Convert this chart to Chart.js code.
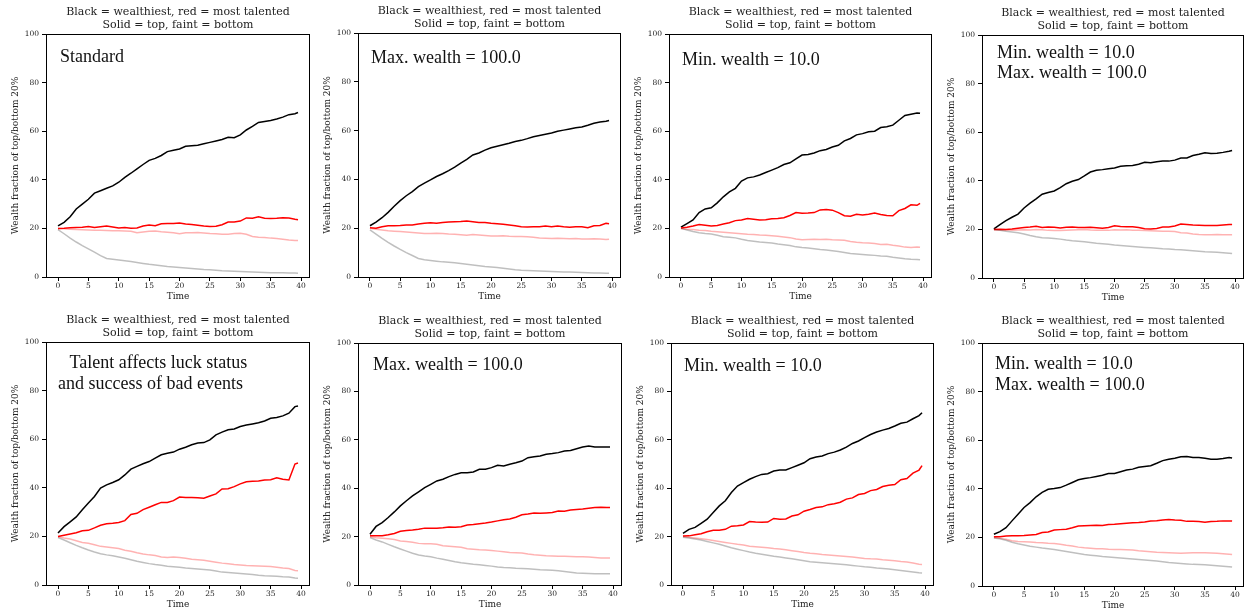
<!DOCTYPE html>
<html>
<head>
<meta charset="utf-8">
<script src="https://cdn.jsdelivr.net/npm/chart.js@4.4.0/dist/chart.umd.min.js"></script>
<style>
  body { margin: 0; background: #fff; width: 1245px; height: 613px; overflow: hidden; position: relative; }
  canvas { position: absolute; }
</style>
</head>
<body>
<script>
// Time steps of the simulation (last sample sits half a step after 39)
const times = [0,1,2,3,4,5,6,7,8,9,10,11,12,13,14,15,16,17,18,19,20,21,22,23,24,25,26,27,28,29,30,31,32,33,34,35,36,37,38,39,39.5];
const xTicks = [0,5,10,15,20,25,30,35,40];
const yTicks = [0,20,40,60,80,100];
const chartTitle = ['Black = wealthiest, red = most talented', 'Solid = top, faint = bottom'];
const yLabel = 'Wealth fraction of top/bottom 20%';
const xLabel = 'Time';
const panelNotes = [
  ['Standard'],
  ['Max. wealth = 100.0'],
  ['Min. wealth = 10.0'],
  ['Min. wealth = 10.0', 'Max. wealth = 100.0'],
  [' Talent affects luck status', 'and success of bad events'],
  ['Max. wealth = 100.0'],
  ['Min. wealth = 10.0'],
  ['Min. wealth = 10.0', 'Max. wealth = 100.0']
];

// --- Standard ---
const standardTopWealth = [21,22.5,24.8,28,30,32,34.5,35.5,36.5,37.5,39,41,42.7,44.5,46.3,48,48.8,50,51.6,52.2,52.7,53.8,54,54.2,54.8,55.4,56,56.6,57.5,57.3,58.5,60.5,62,63.6,64,64.4,65,65.8,66.8,67.2,67.7];
const standardTopTalent = [20,20.1,20.3,20.4,20.5,20.8,20.4,20.7,21,20.6,20.2,20.4,20.1,20.2,21,21.4,21.1,21.9,22,22,22.2,21.8,21.6,21.3,21,20.8,20.9,21.5,22.6,22.6,23,24.3,24.2,24.8,24.2,24.1,24.2,24.4,24.3,23.8,23.6];
const standardBottomTalent = [20,19.9,19.7,19.5,19.4,19.3,19.2,19.2,19.1,19,19,18.9,18.8,18.2,18.5,18.8,18.9,18.6,18.4,18.2,17.8,18.2,18.2,18.3,18.1,17.9,17.8,17.6,17.6,17.9,18,17.6,16.7,16.4,16.3,16,15.8,15.5,15.2,15,15];
const standardBottomWealth = [19.5,17.8,16,14.4,12.9,11.6,10.2,8.8,7.6,7.3,7,6.7,6.4,6,5.6,5.2,4.9,4.6,4.3,4.1,3.9,3.7,3.5,3.3,3.1,3,2.8,2.6,2.5,2.4,2.3,2.2,2.1,2,1.9,1.8,1.8,1.7,1.6,1.6,1.5];

// --- Max. wealth = 100 ---
const maxWealthTopWealth = [21,22.5,24.3,26.5,29,31.3,33.3,35,37,38.5,39.8,41.2,42.3,43.6,45,46.7,48.2,50,50.8,52,53,53.6,54.2,54.8,55.5,56,56.7,57.5,58,58.5,59,59.7,60.2,60.7,61.2,61.5,62.2,63,63.5,63.8,64.1];
const maxWealthTopTalent = [20.2,20,20.6,21,21,21.1,21.3,21.3,21.7,22,22.2,22,22.3,22.5,22.6,22.7,22.9,22.6,22.3,22.3,22,21.8,21.6,21.3,21,20.6,20.5,20.6,20.6,20.9,20.6,20.9,20.6,20.4,20.6,20.6,20.2,21,21.1,22,21.8];
const maxWealthBottomTalent = [20,19.6,19.3,19,18.8,18.6,18.4,18.2,18,17.8,17.8,17.9,17.8,17.6,17.5,17.3,17.1,17.4,17.2,17,16.8,16.8,16.9,16.7,16.6,16.6,16.5,16.3,16,15.9,15.8,15.9,15.8,15.7,15.8,15.6,15.6,15.7,15.6,15.4,15.5];
const maxWealthBottomWealth = [19.3,17.6,15.8,14.2,12.7,11.3,10,8.8,7.6,7.1,6.8,6.5,6.2,6,5.8,5.5,5.2,4.9,4.6,4.3,4.1,3.9,3.6,3.3,3,2.8,2.7,2.6,2.5,2.4,2.3,2.2,2.1,2,1.9,1.8,1.7,1.6,1.6,1.5,1.5];

// --- Min. wealth = 10 ---
const minWealthTopWealth = [20.5,22,23.5,26.5,28,28.5,30.5,33,35,36.5,39.5,40.8,41.2,42,43,44,45,46.3,47,48.6,50.2,50.4,51,52,52.5,53.5,54.2,56,57,58.5,59,59.8,60,61.5,61.8,62.5,64.5,66.5,67,67.5,67.4];
const minWealthTopTalent = [20.2,20.5,21,21.6,21.3,21,21.2,21.8,22.3,23.2,23.5,24.1,23.8,23.5,23.6,24,24.1,24.4,25.3,26.5,26.2,26.3,26.5,27.6,27.8,27.5,26.5,25.2,25,25.8,25.5,25.8,26.3,25.7,25.3,25.2,27.3,28.2,29.7,29.5,30.3];
const minWealthBottomTalent = [20,19.7,19.5,19.2,19.1,18.8,18.6,18.4,18.2,18,17.8,17.6,17.5,17.3,17.2,17,16.8,16.5,16.2,15.6,15.3,15.4,15.5,15.4,15.5,15.3,15.2,15.1,14.6,14.3,14.1,14,13.8,13.4,13.5,13.1,12.8,12.3,12.1,12.3,12.2];
const minWealthBottomWealth = [20,19.3,18.7,18.2,17.9,17.7,17.2,16.6,16.4,16.1,15.5,15,14.7,14.4,14.2,14,13.6,13.3,13,12.4,12.1,11.9,11.6,11.3,11.1,10.8,10.5,10.1,9.7,9.5,9.3,9.1,8.9,8.6,8.5,8.1,7.8,7.5,7.3,7.2,7.1];

// --- Min. wealth = 10, Max. wealth = 100 ---
const minMaxTopWealth = [20.2,22,23.6,25,26.3,28.8,30.8,32.6,34.5,35.2,35.8,37.2,38.8,39.8,40.5,42,43.6,44.3,44.6,45,45.3,46,46.2,46.3,46.8,47.6,47.4,47.8,48.1,48.1,48.5,49.4,49.4,50.4,50.9,51.5,51.2,51.3,51.7,52.2,52.5];
const minMaxTopTalent = [20,20.1,20,20.2,20.5,20.8,21,21.3,20.8,21,20.9,20.6,20.9,21,20.8,20.8,20.9,20.7,20.5,20.8,21.5,21.2,21.1,21.1,20.8,20.3,20.2,20.4,21,21,21.4,22.2,22,21.8,21.7,21.6,21.6,21.6,21.8,22,22];
const minMaxBottomTalent = [20,19.9,19.8,19.7,19.8,19.9,19.8,20,19.9,19.6,19.5,19.5,19.7,19.8,19.9,20,19.8,19.7,19.6,19.6,19.9,19.8,19.9,19.7,19.6,19.5,19.4,19.3,19.2,19.2,19.1,18.6,18.5,18.1,17.9,17.8,17.8,17.9,17.8,17.8,17.8];
const minMaxBottomWealth = [20,19.6,19.2,18.9,18.6,18.1,17.5,17,16.6,16.5,16.3,16,15.6,15.3,15.1,14.9,14.6,14.3,14.1,13.9,13.6,13.4,13.2,13,12.8,12.6,12.4,12.2,12,11.9,11.7,11.6,11.4,11.2,11,10.8,10.7,10.6,10.4,10.2,10.1];

// --- Talent affects luck status and success of bad events ---
const talentTopWealth = [21.4,24,26,28,31,33.7,36.4,39.9,41.2,42.2,43.3,45.3,47.7,48.8,49.9,50.8,52.2,53.6,54.2,54.7,55.9,56.7,57.7,58.4,58.6,59.7,61.8,62.9,63.9,64.2,65.2,65.8,66.3,66.8,67.5,68.6,68.9,69.6,70.7,73.4,73.7];
const talentTopTalent = [20,20.5,21,21.5,22.3,22.5,23.5,24.6,25.2,25.4,25.7,26.5,29,29.5,31,32,33,34,34,34.7,36.2,36,36,35.9,35.7,36.6,37.5,39.5,39.6,40.5,41.6,42.5,42.7,42.8,43.2,43.3,44.1,43.5,43.2,49.8,50.2];
const talentBottomTalent = [19.8,19.3,18.9,18.2,17.5,17.2,16.6,15.9,15.6,15.3,15,14.3,13.9,13.3,12.8,12.4,12.1,11.5,11.3,11.5,11.3,11,10.6,10.4,10.2,9.8,9.4,9,8.7,8.4,8.2,8,7.9,7.8,7.7,7.6,7.3,7,6.8,6,5.9];
const talentBottomWealth = [19.5,18.5,17.4,16.3,15.3,14.4,13.6,12.9,12.4,12,11.5,11,10.4,9.8,9.3,8.8,8.4,8.1,7.7,7.5,7.3,7,6.8,6.6,6.4,6.2,5.8,5.3,5.1,4.9,4.7,4.5,4.3,4,3.8,3.7,3.6,3.4,3.3,2.9,2.8];

// --- Talent, Max. wealth = 100 ---
const talentMaxTopWealth = [21,24.2,25.8,27.9,30.2,32.7,34.8,36.8,38.5,40.2,41.6,43,43.7,44.8,45.7,46.4,46.4,46.7,47.8,47.8,48.5,49.5,49.2,49.9,50.5,51.2,52.6,53,53.3,54,54.3,54.7,55.4,55.6,56.3,57,57.4,57,57,57,57];
const talentMaxTopTalent = [20.3,20.3,20.4,20.8,21.3,22.2,22.5,22.7,23,23.5,23.4,23.5,23.7,24,23.9,24.1,24.8,25,25.3,25.6,26,26.5,27,27.3,28,29,29.3,29.7,29.6,29.8,30,30.6,30.5,31,31.2,31.4,31.7,32,32.1,32,32];
const talentMaxBottomTalent = [20,19.5,19.3,19.1,18.8,18.2,18,17.7,17.2,17,17,16.8,16.2,16,15.8,15.6,15,14.8,14.6,14.5,14.3,14,13.7,13.4,13.3,13.2,12.8,12.5,12.3,12.1,12,11.9,11.9,11.8,11.7,11.7,11.6,11.4,11.2,11.2,11.2];
const talentMaxBottomWealth = [19.6,18.6,17.8,16.8,15.8,14.9,14,13.1,12.4,12,11.7,11.1,10.6,10.1,9.6,9.2,8.9,8.6,8.4,8.1,7.8,7.4,7.2,7.1,6.9,6.8,6.7,6.5,6.3,6.2,6.1,5.9,5.6,5.3,5,4.9,4.8,4.7,4.6,4.6,4.6];

// --- Talent, Min. wealth = 10 ---
const talentMinTopWealth = [21.3,23,23.8,25.5,27.2,30,32.7,34.8,38.2,40.9,42.3,43.7,44.8,45.7,46,47.1,47.5,47.5,48.5,49.5,50.5,52.2,52.9,53.3,54.3,54.9,55.8,57,58.5,59.5,60.9,62.2,63.2,64,64.7,65.7,66.8,67.3,68.7,70,71.2];
const talentMinTopTalent = [20.2,20.3,20.8,21.2,22,22.6,22.6,23,24.3,24.5,24.8,26.2,26,25.9,26,27.5,27.2,27.3,28.5,29,30.5,31.2,32,32.3,33.2,33.6,34.2,35.5,36,37.4,37.8,39,39.5,40.7,41.2,41.5,43.5,44,46.2,47.5,49.3];
const talentMinBottomTalent = [20,19.7,19.4,19.1,18.8,18.4,18,17.6,17.2,16.8,16.5,16,15.8,15.6,15.4,15.1,14.9,14.6,14.2,13.8,13.4,13.1,12.9,12.6,12.4,12.2,12,11.8,11.6,11.3,11,10.8,10.7,10.4,10.2,10,9.7,9.5,9.1,8.6,8.5];
const talentMinBottomWealth = [19.7,19.4,19,18.6,18,17.4,16.8,16.1,15.4,14.8,14.2,13.6,13.1,12.7,12.3,11.9,11.6,11.2,10.8,10.4,10,9.6,9.4,9.2,9,8.8,8.6,8.4,8.1,7.8,7.5,7.3,7,6.8,6.6,6.3,6,5.7,5.4,5.1,5];

// --- Talent, Min. wealth = 10, Max. wealth = 100 ---
const talentMinMaxTopWealth = [21.3,22.4,24,26.8,29.5,32.3,34.3,36.7,38.5,39.8,40.1,40.5,41.5,42.6,43.7,44.2,44.6,45.1,45.6,46.3,46.3,47,47.7,48.1,48.9,49.2,49.5,50.5,51.6,52.2,52.6,53.2,53.3,52.9,52.9,52.6,52.2,52.2,52.5,52.9,52.7];
const talentMinMaxTopTalent = [20.3,20.3,20.6,20.7,20.7,20.8,21,21.2,22,22.2,23,23.2,23.4,24,24.7,24.8,24.9,25,24.9,25.3,25.4,25.6,25.8,26,26.1,26.3,26.7,26.9,27.2,27.4,27.2,27.1,26.6,26.6,26.5,26.2,26.5,26.6,26.8,26.8,26.7];
const talentMinMaxBottomTalent = [20,19.6,19.2,18.6,18.3,18.2,18.1,17.9,17.8,17.6,17.5,17.2,16.8,16.5,16,15.7,15.5,15.3,15.3,15.1,15,15,14.9,14.8,14.5,14.3,14.1,13.9,13.8,13.7,13.6,13.5,13.6,13.7,13.7,13.7,13.6,13.5,13.3,13.1,13];
const talentMinMaxBottomWealth = [19.8,19.4,18.8,18,17.4,16.9,16.4,16,15.6,15.3,15,14.6,14.2,13.8,13.4,13,12.7,12.4,12.1,11.9,11.7,11.5,11.3,11.1,10.9,10.7,10.5,10.3,10,9.7,9.5,9.3,9.1,8.9,8.8,8.7,8.5,8.3,8.1,7.9,7.8];

const panelSeries = [
  [standardTopWealth, standardTopTalent, standardBottomTalent, standardBottomWealth],
  [maxWealthTopWealth, maxWealthTopTalent, maxWealthBottomTalent, maxWealthBottomWealth],
  [minWealthTopWealth, minWealthTopTalent, minWealthBottomTalent, minWealthBottomWealth],
  [minMaxTopWealth, minMaxTopTalent, minMaxBottomTalent, minMaxBottomWealth],
  [talentTopWealth, talentTopTalent, talentBottomTalent, talentBottomWealth],
  [talentMaxTopWealth, talentMaxTopTalent, talentMaxBottomTalent, talentMaxBottomWealth],
  [talentMinTopWealth, talentMinTopTalent, talentMinBottomTalent, talentMinBottomWealth],
  [talentMinMaxTopWealth, talentMinMaxTopTalent, talentMinMaxBottomTalent, talentMinMaxBottomWealth]
];

// Line styles: top wealth, top talent, bottom talent (faint red), bottom wealth (faint black)
const lineColors = ['#000000', '#ff0000', 'rgba(255,0,0,0.3)', 'rgba(0,0,0,0.25)'];
const drawOrder = [3, 2, 1, 0];

// Plot-area rectangles (page pixels) for the 2 x 4 grid
const plotBoxes = [
  { l: 46,  t: 34,  r: 310,  b: 277 },
  { l: 358, t: 33,  r: 621,  b: 277 },
  { l: 669, t: 34,  r: 932,  b: 277 },
  { l: 982, t: 35,  r: 1244, b: 278 },
  { l: 46,  t: 342, r: 310,  b: 585 },
  { l: 358, t: 343, r: 622,  b: 585 },
  { l: 671, t: 343, r: 934,  b: 585 },
  { l: 982, t: 343, r: 1244, b: 586 }
];
// Note text placement inside each plot area: x offset and line centre offsets
const notePlacement = [
  { x: [14], y: [23] },
  { x: [13], y: [25] },
  { x: [13], y: [26] },
  { x: [15, 15], y: [18, 38] },
  { x: [19, 12], y: [21, 42] },
  { x: [15], y: [22] },
  { x: [13], y: [23] },
  { x: [13, 13], y: [21, 42] }
];

const PAD_LEFT = 46, PAD_TOP = 34, PAD_BOTTOM = 30, PAD_RIGHT = 2;
const serif = '"DejaVu Serif", serif';

const framePlugin = {
  id: 'frameAndText',
  afterDatasetsDraw(chart, args, opts) {
    const { ctx, chartArea: a } = chart;
    ctx.save();
    // Axes frame
    ctx.strokeStyle = '#000';
    ctx.lineWidth = 1;
    ctx.strokeRect(Math.round(a.left) + 0.5, Math.round(a.top) + 0.5,
                   Math.round(a.right - a.left) - 1, Math.round(a.bottom - a.top));
    ctx.fillStyle = '#222';
    const cx = (a.left + a.right) / 2;
    // Title (two lines)
    ctx.font = '11px ' + serif;
    ctx.textAlign = 'center';
    ctx.textBaseline = 'middle';
    ctx.fillText(chartTitle[0], cx, a.top - 22);
    ctx.fillText(chartTitle[1], cx, a.top - 9);
    // Axis labels
    ctx.font = '9px ' + serif;
    ctx.fillText(xLabel, cx, a.bottom + 20);
    ctx.save();
    ctx.translate(a.left - 30, (a.top + a.bottom) / 2);
    ctx.rotate(-Math.PI / 2);
    ctx.fillText(yLabel, 0, 0);
    ctx.restore();
    // Panel note
    ctx.fillStyle = '#111';
    ctx.font = '18px "Liberation Serif", serif';
    ctx.textAlign = 'left';
    const notes = opts.notes, place = opts.place;
    notes.forEach((line, i) => {
      ctx.fillText(line, a.left + place.x[i], a.top + place.y[i]);
    });
    ctx.restore();
  }
};

plotBoxes.forEach((box, p) => {
  const canvas = document.createElement('canvas');
  const w = box.r - box.l + PAD_LEFT + PAD_RIGHT;
  const h = box.b - box.t + PAD_TOP + PAD_BOTTOM;
  canvas.width = w; canvas.height = h;
  canvas.style.left = (box.l - PAD_LEFT) + 'px';
  canvas.style.top = (box.t - PAD_TOP) + 'px';
  canvas.style.width = w + 'px';
  canvas.style.height = h + 'px';
  document.body.appendChild(canvas);

  const datasets = drawOrder.map(k => ({
    data: times.map((t, i) => ({ x: t, y: panelSeries[p][k][i] })),
    borderColor: lineColors[k],
    borderWidth: 1.5,
    pointRadius: 0,
    tension: 0,
    fill: false
  }));

  new Chart(canvas, {
    type: 'line',
    data: { datasets },
    plugins: [framePlugin],
    options: {
      responsive: false,
      animation: false,
      events: [],
      layout: { padding: { top: PAD_TOP, right: PAD_RIGHT, left: 0, bottom: 0 } },
      plugins: {
        legend: { display: false },
        tooltip: { enabled: false },
        title: { display: false },
        frameAndText: { notes: panelNotes[p], place: notePlacement[p] }
      },
      scales: {
        x: {
          type: 'linear',
          min: -1.975,
          max: 41.475,
          afterBuildTicks: s => { s.ticks = xTicks.map(v => ({ value: v })); },
          afterFit: s => { s.height = PAD_BOTTOM; },
          border: { display: false },
          grid: { display: true, drawOnChartArea: false, drawTicks: true, tickLength: 4, color: '#000' },
          ticks: { font: { family: serif, size: 7.5 }, color: '#222', padding: 1, maxRotation: 0 }
        },
        y: {
          type: 'linear',
          min: 0,
          max: 100,
          afterBuildTicks: s => { s.ticks = yTicks.map(v => ({ value: v })); },
          afterFit: s => { s.width = PAD_LEFT; },
          border: { display: false },
          grid: { display: true, drawOnChartArea: false, drawTicks: true, tickLength: 4, color: '#000' },
          ticks: { font: { family: serif, size: 7.5 }, color: '#222', padding: 3 }
        }
      }
    }
  });
});
</script>
</body>
</html>
